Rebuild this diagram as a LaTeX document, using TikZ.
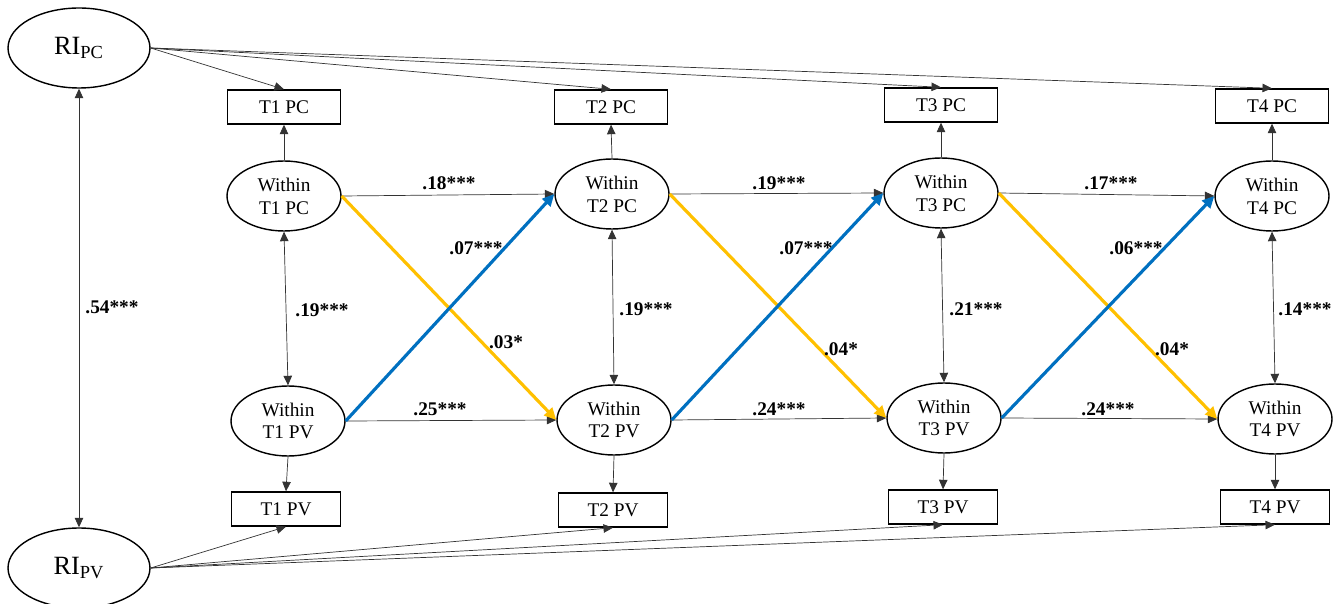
\documentclass[tikz,border=0pt]{standalone}
\usepackage{fontspec}
\setmainfont{Liberation Serif}
\usepackage{xcolor}
\usepackage{tikz}
\usetikzlibrary{arrows.meta}
\usetikzlibrary{shapes.geometric}
\definecolor{path_blue}{HTML}{0070C0}
\definecolor{path_gold}{HTML}{FFC000}
\tikzset{
    tnode/.style = {align=center, inner sep=0pt, text centered},
    ri_node/.style = {tnode, ellipse, draw=black, thick, minimum width=2.84cm, minimum height=1.6cm, font=\fontsize{15}{17}\selectfont},
    within_node/.style = {tnode, ellipse, draw=black, thick, minimum width=2.28cm, minimum height=1.4cm, font=\fontsize{11}{13}\selectfont},
    obs_node/.style = {tnode, rectangle, draw=black, thick, minimum width=2.26cm, minimum height=0.68cm, font=\fontsize{11}{13}\selectfont},
    coef/.style = {tnode, font=\fontsize{11}{13}\selectfont\bfseries},
    link/.style = {draw=black!80, -{Triangle[length=1.9mm,width=1.7mm]}},
    cov/.style = {draw=black!80, {Triangle[length=1.9mm,width=1.7mm]}-{Triangle[length=1.9mm,width=1.7mm]}},
    cross_blue/.style = {draw=path_blue, line width=1.8pt, -{Triangle[length=2.4mm,width=2.2mm]}},
    cross_gold/.style = {draw=path_gold, line width=1.8pt, -{Triangle[length=2.4mm,width=2.2mm]}}
}
\begin{document}
\begin{tikzpicture}[x=0.02cm, y=-0.02cm]
    \useasboundingbox (0,0) rectangle (1342,604);

    % random intercepts
    \node [ri_node] (ri_pc) at (79,48) {RI\textsubscript{PC}};
    \node [ri_node] (ri_pv) at (79,568) {RI\textsubscript{PV}};

    % observed
    \node [obs_node] (t1_pc) at (284,107) {T1 PC};
    \node [obs_node] (t2_pc) at (611,107) {T2 PC};
    \node [obs_node] (t3_pc) at (941,105) {T3 PC};
    \node [obs_node] (t4_pc) at (1272,106) {T4 PC};
    \node [obs_node, minimum width=2.18cm] (t1_pv) at (286,509) {T1 PV};
    \node [obs_node, minimum width=2.18cm] (t2_pv) at (613,510) {T2 PV};
    \node [obs_node, minimum width=2.18cm] (t3_pv) at (943,507) {T3 PV};
    \node [obs_node, minimum width=2.18cm] (t4_pv) at (1275,507) {T4 PV};

    % within
    \node [within_node] (w1_pc) at (284,196) {Within\\T1 PC};
    \node [within_node] (w2_pc) at (612,194) {Within\\T2 PC};
    \node [within_node] (w3_pc) at (941,193) {Within\\T3 PC};
    \node [within_node] (w4_pc) at (1272,196) {Within\\T4 PC};
    \node [within_node] (w1_pv) at (288,421) {Within\\T1 PV};
    \node [within_node] (w2_pv) at (614,420) {Within\\T2 PV};
    \node [within_node] (w3_pv) at (944,418) {Within\\T3 PV};
    \node [within_node] (w4_pv) at (1275,419) {Within\\T4 PV};

    % loadings
    \draw [cov] (ri_pc.south) -- (ri_pv.north);
    \foreach \t in {1,2,3,4} {
        \draw [link] (ri_pc.east) -- (t\t_pc.north);
        \draw [link] (ri_pv.east) -- (t\t_pv.south);
        \draw [link] (w\t_pc.north) -- (t\t_pc.south);
        \draw [link] (w\t_pv.south) -- (t\t_pv.north);
        \draw [cov] (w\t_pc.south) -- (w\t_pv.north);
    }

    % lagged paths
    \foreach \a/\b in {1/2,2/3,3/4} {
        \draw [link] (w\a_pc.east) -- (w\b_pc.west);
        \draw [link] (w\a_pv.east) -- (w\b_pv.west);
        \draw [cross_gold] (w\a_pc.east) -- (w\b_pv.west);
        \draw [cross_blue] (w\a_pv.east) -- (w\b_pc.west);
    }

    % estimates
    \node [coef] (c_ri) at (112,307) {.54***};
    \node [coef] (c_pc12) at (449,183) {.18***};
    \node [coef] (c_pc23) at (779,183) {.19***};
    \node [coef] (c_pc34) at (1111,183) {.17***};
    \node [coef] (c_pv12) at (440,409) {.25***};
    \node [coef] (c_pv23) at (779,409) {.24***};
    \node [coef] (c_pv34) at (1108,409) {.24***};
    \node [coef] (c_r1) at (322,310) {.19***};
    \node [coef] (c_r2) at (646,309) {.19***};
    \node [coef] (c_r3) at (976,309) {.21***};
    \node [coef] (c_r4) at (1305,309) {.14***};
    \node [coef] (c_b12) at (476,248) {.07***};
    \node [coef] (c_b23) at (806,248) {.07***};
    \node [coef] (c_b34) at (1136,248) {.06***};
    \node [coef] (c_g12) at (506,342) {.03*};
    \node [coef] (c_g23) at (841,349) {.04*};
    \node [coef] (c_g34) at (1172,349) {.04*};
\end{tikzpicture}
\end{document}
